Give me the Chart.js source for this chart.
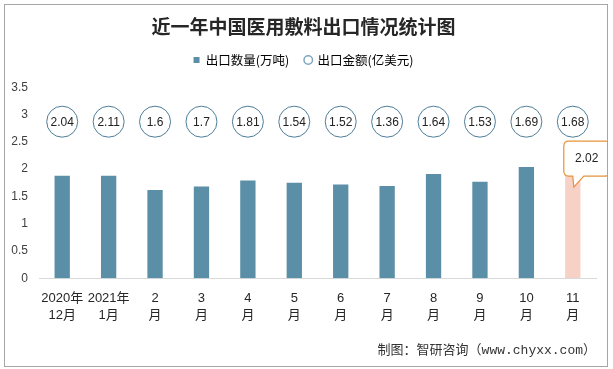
<!DOCTYPE html>
<html lang="zh">
<head>
    <meta charset="UTF-8">
    <title>近一年中国医用敷料出口情况统计图</title>
    <style>
        body {
            margin: 0;
            padding: 0;
            background: #fff;
        }

        .chart-box {
            position: absolute;
            left: 4px;
            top: 4px;
            width: 604px;
            height: 363px;
            border: 1px solid #a6a6a6;
            box-sizing: border-box;
            background: #fff;
        }
    </style>
</head>
<body>
    <div class="chart-box">
        <canvas id="exportChart"></canvas>
    </div>

    <script src="https://cdn.jsdelivr.net/npm/chart.js"></script>
    <script>
        // data
        const months = [
            ['2020年', '12月'], ['2021年', '1月'], ['2', '月'], ['3', '月'], ['4', '月'], ['5', '月'],
            ['6', '月'], ['7', '月'], ['8', '月'], ['9', '月'], ['10', '月'], ['11', '月']
        ];
        const volume = [1.88, 1.88, 1.62, 1.68, 1.79, 1.75, 1.72, 1.69, 1.91, 1.77, 2.04, 2.02];   // 万吨
        const amount = [2.04, 2.11, 1.6, 1.7, 1.81, 1.54, 1.52, 1.36, 1.64, 1.53, 1.69, 1.68];     // 亿美元
        const yTicks = [0, 0.5, 1, 1.5, 2, 2.5, 3, 3.5];

        const barBlue = '#5b8fa7';
        const barPink = '#f8d1c6';
        const bubbleLevel = 2.87; // the amount bubbles sit in a row above the bars
        const fontLatin = '"Liberation Sans", "Noto Sans CJK SC", sans-serif';
        const fontCjk = '"Noto Sans CJK SC", sans-serif';

        // extra room under the legend
        const legendGap = {
            id: 'legendGap',
            beforeInit(chart) {
                const fit = chart.legend.fit;
                chart.legend.fit = function () {
                    fit.bind(chart.legend)();
                    this.height += 11;
                };
            }
        };

        // text inside the amount bubbles + callout on the last bar
        const labelPlugin = {
            id: 'labelPlugin',
            afterDatasetsDraw(chart) {
                const ctx = chart.ctx;
                ctx.save();
                ctx.font = '12px ' + fontLatin;
                ctx.fillStyle = '#222';
                ctx.textAlign = 'center';
                ctx.textBaseline = 'middle';
                chart.getDatasetMeta(1).data.forEach((pt, i) => {
                    ctx.fillText(String(amount[i]), pt.x, pt.y + 1);
                });

                const last = volume.length - 1;
                const bar = chart.getDatasetMeta(0).data[last];
                const x = bar.x, y = bar.y;
                const l = x - 9, r = x + 37, t = y - 27, b = y + 8, rad = 5;
                ctx.beginPath();
                ctx.moveTo(l + rad, t);
                ctx.lineTo(r - rad, t);
                ctx.quadraticCurveTo(r, t, r, t + rad);
                ctx.lineTo(r, b - rad);
                ctx.quadraticCurveTo(r, b, r - rad, b);
                ctx.lineTo(x + 11, b);
                ctx.lineTo(x + 1, y + 19);
                ctx.lineTo(x, b);
                ctx.lineTo(l + rad, b);
                ctx.quadraticCurveTo(l, b, l, b - rad);
                ctx.lineTo(l, t + rad);
                ctx.quadraticCurveTo(l, t, l + rad, t);
                ctx.closePath();
                ctx.fillStyle = '#fff';
                ctx.fill();
                ctx.strokeStyle = '#e8923c';
                ctx.lineWidth = 1.2;
                ctx.stroke();
                ctx.fillStyle = '#222';
                ctx.fillText(String(volume[last]), x + 14, y - 9);
                ctx.restore();
            }
        };

        const ctx = document.getElementById('exportChart').getContext('2d');
        const exportChart = new Chart(ctx, {
            type: 'bar',
            data: {
                labels: months,
                datasets: [{
                    label: '出口数量(万吨)',
                    data: volume,
                    backgroundColor: volume.map((v, i) => i === volume.length - 1 ? barPink : barBlue),
                    barPercentage: 0.33,
                    categoryPercentage: 1,
                    order: 2
                }, {
                    type: 'line',
                    label: '出口金额(亿美元)',
                    data: amount.map(() => bubbleLevel),
                    showLine: false,
                    pointStyle: 'circle',
                    pointRadius: 15.5,
                    pointHoverRadius: 15.5,
                    pointBorderWidth: 1,
                    pointBorderColor: '#4c7d98',
                    pointBackgroundColor: '#fff',
                    order: 1
                }]
            },
            options: {
                responsive: true,
                maintainAspectRatio: false,
                animation: false,
                layout: {
                    autoPadding: false,
                    padding: { left: 6, right: 11, top: 2, bottom: 8 }
                },
                plugins: {
                    title: {
                        display: true,
                        text: '近一年中国医用敷料出口情况统计图',
                        color: '#262626',
                        font: { size: 19, weight: 'bold', family: fontCjk },
                        padding: { top: 8, bottom: 0 }
                    },
                    subtitle: {
                        display: true,
                        position: 'bottom',
                        align: 'end',
                        text: '制图：智研咨询（www.chyxx.com）',
                        color: '#333',
                        font: { size: 13, family: '"Liberation Mono", "Noto Sans CJK SC", monospace' },
                        padding: { top: 7, bottom: 0 }
                    },
                    legend: {
                        position: 'top',
                        labels: {
                            usePointStyle: true,
                            boxHeight: 6,
                            boxWidth: 6,
                            padding: 16,
                            color: '#404040',
                            font: { size: 12.5, family: fontCjk },
                            generateLabels(chart) {
                                return [{
                                    text: '出口数量(万吨)',
                                    pointStyle: 'rect',
                                    fillStyle: barBlue,
                                    strokeStyle: barBlue,
                                    lineWidth: 0,
                                    datasetIndex: 0
                                }, {
                                    text: '出口金额(亿美元)',
                                    pointStyle: 'circle',
                                    fillStyle: '#fff',
                                    strokeStyle: '#7fa6bb',
                                    lineWidth: 1.5,
                                    datasetIndex: 1
                                }];
                            }
                        }
                    },
                    tooltip: { enabled: false }
                },
                scales: {
                    x: {
                        grid: { display: false, drawTicks: false },
                        border: { color: '#d9d9d9' },
                        ticks: {
                            color: '#262626',
                            maxRotation: 0,
                            autoSkip: false,
                            padding: 11,
                            font: { size: 13, family: fontLatin, lineHeight: 1.35 }
                        },
                        afterFit(axis) {
                            axis.paddingLeft = 0;
                            axis.paddingRight = 0;
                        }
                    },
                    y: {
                        min: 0,
                        max: 3.5,
                        afterBuildTicks(axis) {
                            axis.ticks = yTicks.map(v => ({ value: v }));
                        },
                        afterFit(axis) {
                            axis.width = 28;
                        },
                        grid: { display: false, drawTicks: false },
                        border: { display: false },
                        ticks: {
                            color: '#404040',
                            padding: 11,
                            font: { size: 12, family: fontLatin },
                            callback: v => String(v)
                        }
                    }
                }
            },
            plugins: [legendGap, labelPlugin]
        });
    </script>
</body>
</html>
